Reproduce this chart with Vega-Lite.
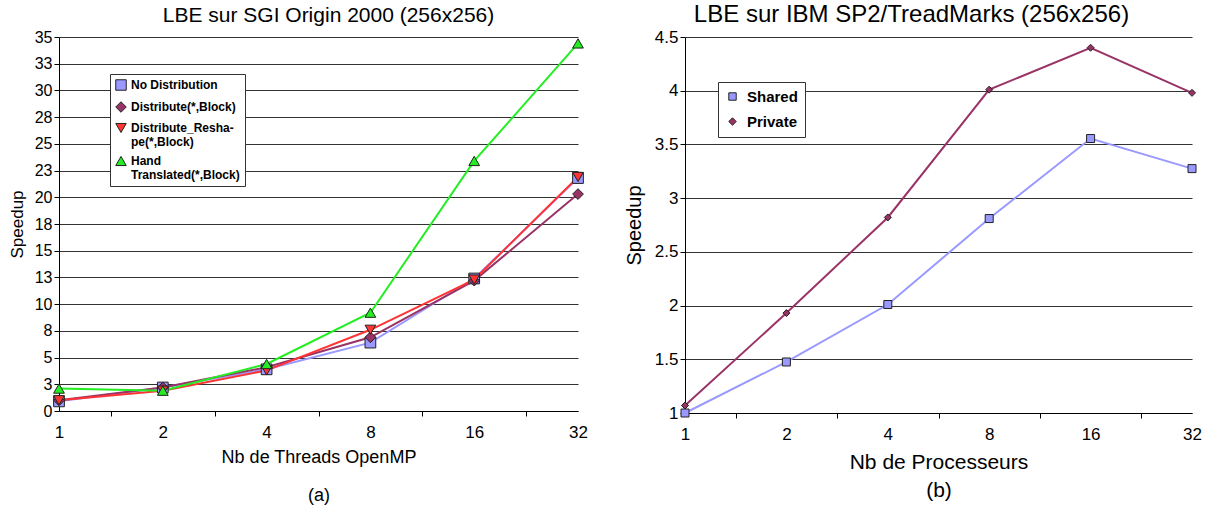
{
  "$schema": "https://vega.github.io/schema/vega-lite/v6.json",
  "padding": {"left": 8, "top": 3, "right": 5, "bottom": 2},
  "background": "white",
  "config": {
    "font": "Liberation Sans",
    "view": {"stroke": null},
    "axis": {"domainColor": "black", "tickColor": "black", "labelColor": "black", "titleColor": "black", "titleFontWeight": "normal", "labelFont": "Liberation Sans", "titleFont": "Liberation Sans"},
    "title": {"color": "black", "fontWeight": "normal", "font": "Liberation Sans"}
  },
  "datasets": {
    "sgi": [
      {"threads": 1, "speedup": 0.9, "serie": "No Distribution"},
      {"threads": 2, "speedup": 2.2, "serie": "No Distribution"},
      {"threads": 4, "speedup": 3.9, "serie": "No Distribution"},
      {"threads": 8, "speedup": 6.4, "serie": "No Distribution"},
      {"threads": 16, "speedup": 12.4, "serie": "No Distribution"},
      {"threads": 32, "speedup": 21.8, "serie": "No Distribution"},
      {"threads": 1, "speedup": 1.0, "serie": "Distribute(*,Block)"},
      {"threads": 2, "speedup": 2.2, "serie": "Distribute(*,Block)"},
      {"threads": 4, "speedup": 4.1, "serie": "Distribute(*,Block)"},
      {"threads": 8, "speedup": 6.9, "serie": "Distribute(*,Block)"},
      {"threads": 16, "speedup": 12.2, "serie": "Distribute(*,Block)"},
      {"threads": 32, "speedup": 20.3, "serie": "Distribute(*,Block)"},
      {"threads": 1, "speedup": 1.0, "serie": "Distribute_Reshape(*,Block)"},
      {"threads": 2, "speedup": 1.9, "serie": "Distribute_Reshape(*,Block)"},
      {"threads": 4, "speedup": 3.8, "serie": "Distribute_Reshape(*,Block)"},
      {"threads": 8, "speedup": 7.6, "serie": "Distribute_Reshape(*,Block)"},
      {"threads": 16, "speedup": 12.3, "serie": "Distribute_Reshape(*,Block)"},
      {"threads": 32, "speedup": 21.9, "serie": "Distribute_Reshape(*,Block)"},
      {"threads": 1, "speedup": 2.1, "serie": "Hand Translated(*,Block)"},
      {"threads": 2, "speedup": 1.9, "serie": "Hand Translated(*,Block)"},
      {"threads": 4, "speedup": 4.4, "serie": "Hand Translated(*,Block)"},
      {"threads": 8, "speedup": 9.2, "serie": "Hand Translated(*,Block)"},
      {"threads": 16, "speedup": 23.4, "serie": "Hand Translated(*,Block)"},
      {"threads": 32, "speedup": 34.4, "serie": "Hand Translated(*,Block)"}
    ],
    "sp2": [
      {"procs": 1, "speedup": 1.0, "serie": "Shared"},
      {"procs": 2, "speedup": 1.475, "serie": "Shared"},
      {"procs": 4, "speedup": 2.01, "serie": "Shared"},
      {"procs": 8, "speedup": 2.81, "serie": "Shared"},
      {"procs": 16, "speedup": 3.555, "serie": "Shared"},
      {"procs": 32, "speedup": 3.275, "serie": "Shared"},
      {"procs": 1, "speedup": 1.07, "serie": "Private"},
      {"procs": 2, "speedup": 1.93, "serie": "Private"},
      {"procs": 4, "speedup": 2.82, "serie": "Private"},
      {"procs": 8, "speedup": 4.01, "serie": "Private"},
      {"procs": 16, "speedup": 4.4, "serie": "Private"},
      {"procs": 32, "speedup": 3.98, "serie": "Private"}
    ]
  },
  "resolve": {"scale": {"color": "independent", "shape": "independent", "stroke": "independent", "size": "independent"}, "legend": {"color": "independent", "shape": "independent"}},
  "spacing": 36,
  "hconcat": [
    {
      "width": 519,
      "height": 374,
      "title": {"text": "LBE sur SGI Origin 2000 (256x256)", "fontSize": 21, "dx": 10, "offset": 3},
      "data": {"name": "sgi"},
      "encoding": {
        "x": {
          "field": "threads", "type": "quantitative",
          "scale": {"type": "log", "base": 2, "domain": [1, 32], "nice": false},
          "axis": {
            "title": ["Nb de Threads OpenMP", "(a)"], "titleFontSize": 18, "titlePadding": 8, "titleLineHeight": 38,
            "values": [1, 1.41421356, 2, 2.82842712, 4, 5.65685425, 8, 11.3137085, 16, 22.627417, 32],
            "labelExpr": "datum.value == round(datum.value) ? format(datum.value, 'd') : ''",
            "labelFontSize": 17, "labelOverlap": false, "labelFlush": false, "labelPadding": 8,
            "tickSize": 5,
            "tickOpacity": {"condition": {"test": "datum.value != round(datum.value)", "value": 1}, "value": 0},
            "grid": false
          }
        },
        "y": {
          "field": "speedup", "type": "quantitative",
          "scale": {"domain": [0, 35], "nice": false},
          "axis": {
            "title": "Speedup", "titleFontSize": 17, "titlePadding": 8,
            "values": [0, 2.5, 5, 7.5, 10, 12.5, 15, 17.5, 20, 22.5, 25, 27.5, 30, 32.5, 35],
            "format": ".0f", "labelFontSize": 16, "labelPadding": 2, "tickSize": 5,
            "grid": true, "gridColor": "#333333", "gridWidth": 1
          }
        }
      },
      "layer": [
        {
          "mark": {"type": "line", "strokeWidth": 2},
          "encoding": {
            "stroke": {
              "field": "serie", "type": "nominal",
              "scale": {"domain": ["Hand Translated(*,Block)", "No Distribution", "Distribute(*,Block)", "Distribute_Reshape(*,Block)"], "range": ["#22EE22", "#9999FF", "#993366", "#FF3333"]},
              "legend": null
            }
          }
        },
        {
          "mark": {"type": "point", "filled": true, "size": 115, "stroke": "#222222", "strokeWidth": 1, "opacity": 1},
          "encoding": {
            "color": {
              "field": "serie", "type": "nominal",
              "scale": {"domain": ["No Distribution", "Distribute(*,Block)", "Distribute_Reshape(*,Block)", "Hand Translated(*,Block)"], "range": ["#9999FF", "#993366", "#FF3333", "#22EE22"]},
              "legend": {
                "title": null, "orient": "none", "legendX": 51, "legendY": 37,
                "strokeColor": "#333333", "fillColor": "white", "padding": 5,
                "labelFont": "Liberation Sans", "labelFontWeight": "bold", "labelFontSize": 12, "labelColor": "black",
                "labelExpr": "datum.label == 'Distribute_Reshape(*,Block)' ? ['Distribute_Resha-', 'pe(*,Block)'] : datum.label == 'Hand Translated(*,Block)' ? ['Hand', 'Translated(*,Block)'] : datum.label",
                "symbolSize": 110, "symbolStrokeColor": "#222222", "symbolStrokeWidth": 1, "rowPadding": 6, "labelOffset": 4
              }
            },
            "shape": {
              "field": "serie", "type": "nominal",
              "scale": {"domain": ["No Distribution", "Distribute(*,Block)", "Distribute_Reshape(*,Block)", "Hand Translated(*,Block)"], "range": ["square", "diamond", "triangle-down", "triangle-up"]},
              "legend": {
                "title": null, "orient": "none", "legendX": 51, "legendY": 37,
                "strokeColor": "#333333", "fillColor": "white", "padding": 5,
                "labelFont": "Liberation Sans", "labelFontWeight": "bold", "labelFontSize": 12, "labelColor": "black",
                "labelExpr": "datum.label == 'Distribute_Reshape(*,Block)' ? ['Distribute_Resha-', 'pe(*,Block)'] : datum.label == 'Hand Translated(*,Block)' ? ['Hand', 'Translated(*,Block)'] : datum.label",
                "symbolSize": 110, "symbolStrokeColor": "#222222", "symbolStrokeWidth": 1, "rowPadding": 6, "labelOffset": 4
              }
            }
          }
        }
      ]
    },
    {
      "width": 507,
      "height": 376,
      "title": {"text": "LBE sur IBM SP2/TreadMarks (256x256)", "fontSize": 24, "dx": -27, "offset": 1},
      "data": {"name": "sp2"},
      "encoding": {
        "x": {
          "field": "procs", "type": "quantitative",
          "scale": {"type": "log", "base": 2, "domain": [1, 32], "nice": false},
          "axis": {
            "title": ["Nb de Processeurs", "(b)"], "titleFontSize": 21, "titlePadding": 9, "titleLineHeight": 28,
            "values": [1, 1.41421356, 2, 2.82842712, 4, 5.65685425, 8, 11.3137085, 16, 22.627417, 32],
            "labelExpr": "datum.value == round(datum.value) ? format(datum.value, 'd') : ''",
            "labelFontSize": 17, "labelOverlap": false, "labelFlush": false, "labelPadding": 8,
            "tickSize": 5,
            "tickOpacity": {"condition": {"test": "datum.value != round(datum.value)", "value": 1}, "value": 0},
            "grid": false
          }
        },
        "y": {
          "field": "speedup", "type": "quantitative",
          "scale": {"domain": [1, 4.5], "nice": false, "zero": false},
          "axis": {
            "title": "Speedup", "titleFontSize": 20, "titlePadding": 10,
            "values": [1, 1.5, 2, 2.5, 3, 3.5, 4, 4.5],
            "format": "~f", "labelFontSize": 17, "labelPadding": 2, "tickSize": 5,
            "grid": true, "gridColor": "#333333", "gridWidth": 1
          }
        }
      },
      "layer": [
        {
          "mark": {"type": "line", "strokeWidth": 2},
          "encoding": {
            "stroke": {
              "field": "serie", "type": "nominal",
              "scale": {"domain": ["Private", "Shared"], "range": ["#993366", "#9999FF"]},
              "legend": null
            }
          }
        },
        {
          "mark": {"type": "point", "filled": true, "stroke": "#222222", "strokeWidth": 1, "opacity": 1},
          "encoding": {
            "color": {
              "field": "serie", "type": "nominal",
              "scale": {"domain": ["Shared", "Private"], "range": ["#9999FF", "#993366"]},
              "legend": {
                "title": null, "orient": "none", "legendX": 33, "legendY": 45,
                "strokeColor": "#333333", "fillColor": "white", "padding": 7,
                "labelFont": "Liberation Sans", "labelFontWeight": "bold", "labelFontSize": 15, "labelColor": "black",
                "symbolSize": 55, "symbolStrokeColor": "#222222", "symbolStrokeWidth": 1, "rowPadding": 9, "labelOffset": 7
              }
            },
            "shape": {
              "field": "serie", "type": "nominal",
              "scale": {"domain": ["Shared", "Private"], "range": ["square", "diamond"]},
              "legend": {
                "title": null, "orient": "none", "legendX": 33, "legendY": 45,
                "strokeColor": "#333333", "fillColor": "white", "padding": 7,
                "labelFont": "Liberation Sans", "labelFontWeight": "bold", "labelFontSize": 15, "labelColor": "black",
                "symbolSize": 55, "symbolStrokeColor": "#222222", "symbolStrokeWidth": 1, "rowPadding": 9, "labelOffset": 7
              }
            },
            "size": {
              "field": "serie", "type": "nominal",
              "scale": {"domain": ["Private", "Shared"], "range": [49, 64]},
              "legend": null
            }
          }
        }
      ]
    }
  ]
}
